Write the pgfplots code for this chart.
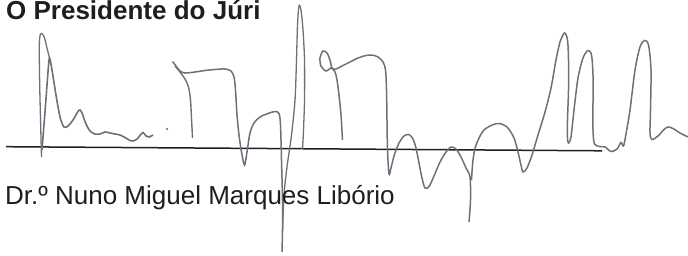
\documentclass[border=0pt]{standalone}
\usepackage{pgfplots}
\pgfplotsset{compat=1.18}
\usepackage{fontspec}
\setmainfont{Liberation Sans}
\definecolor{ink}{RGB}{30,30,32}
\definecolor{sig}{RGB}{108,112,120}
\begin{document}
\begin{tikzpicture}
\useasboundingbox (0,0) rectangle (688pt,255pt);
\begin{axis}[scale only axis, width=688pt, height=255pt,
  xmin=0, xmax=688, ymin=0, ymax=255, y dir=reverse,
  hide axis, clip=false]
% rule line
\addplot[ink, line width=1.5pt] coordinates {(6,146.7) (602,150.8)};
% signature strokes
\addplot[sig, line width=1.3pt, smooth, tension=0.5] coordinates {
(41.5,157) (40.8,130) (39.8,90) (39.3,55) (39.5,40) (40.5,34) (42.5,34) (44.5,38) (46.5,46) (48.5,54) (50,60)};
\addplot[sig, line width=1.6pt, smooth, tension=0.5] coordinates {
(42,150) (45,112) (48,72) (49.5,58) (52,70) (56,95) (60,117) (64,127) (68,126) (73,120) (78,111.5) (80,110) (82,113) (86,124) (90,131) (95,134) (100,134) (105,132) (110,133) (115,134) (120,135) (125,137.5) (130,140.5) (133,141) (137,139) (140,135.5) (143,132.5) (146,136) (149,137) (153,135)};
\addplot[sig, only marks, mark=*, mark size=0.9pt] coordinates {(167,129)};
\addplot[sig, line width=1.5pt, smooth, tension=0.5] coordinates {
(172.5,61.5) (176,66) (180,71) (185,73) (195,72) (205,70.5) (215,69.5) (225,69) (231,71) (234,77) (235.5,90) (237,115) (239,135) (241.5,152) (244.5,165) (247,152) (250,133) (254,123) (260,117) (268,113.5) (275,111.5) (279,113.5) (280.5,125) (281.5,160) (282.5,200) (282.5,230) (282,252)};
\addplot[sig, line width=1.4pt, smooth, tension=0.5] coordinates {
(175,66) (180,72) (185,79) (188.5,87) (190.5,100) (191.5,118) (192.5,138)};
\addplot[sig, line width=1.3pt, smooth, tension=0.5] coordinates {
(282.5,232) (284,195) (287,167) (291.5,135) (295,100) (296.5,60) (297.5,25) (299,6) (301,10) (303,30) (304.5,60) (304.5,100) (303.5,130) (302.5,149)};
\addplot[sig, line width=1.5pt, smooth, tension=0.5] coordinates {
(342.5,140) (341,115) (339,95) (337,80) (335,72) (331,68) (326,71) (321,66) (320,58) (323,51) (327,53) (330,60) (332,68) (336,69) (342,66) (350,62) (358,58) (366,55.5) (372,55) (378,57) (383,62) (385.5,70) (386.5,90) (387,120) (387.5,150) (389,174) (391,168) (394,156) (399,143) (404,136) (409,134.5) (413,139) (416,148) (419,163) (422,178) (425,188) (429,186.5) (434,176) (440,162) (446,152) (451,147) (456,149) (461,157) (466,168) (470,177) (470.5,200) (469,222)};
\addplot[sig, line width=1.5pt, smooth, tension=0.5] coordinates {
(471.5,180) (473,160) (476,145) (484,130) (497,123.5) (507,127) (514,138) (518,152) (521,165) (523,172) (527,168) (532,155) (538,135) (545,112) (551,88) (556,60) (560,42) (564.5,33) (567.5,40) (568.5,60) (568.5,90) (567.5,120) (567.5,138) (568.5,143) (571,137) (574,110) (578,78) (583,58) (588,50.5) (591.5,55) (593,75) (593,100) (593,130) (594.5,144) (600,146.5) (605,147) (611,151.5) (617,149) (621,142.5) (623.5,146) (626,134) (630,110) (635,70) (640,47) (644.5,40.5) (648.5,45) (651,70) (650.5,110) (650,133) (652,139.5) (658,136) (664,129.5) (668,127) (673,128.5) (680,133) (688,137)};
% texts
\node[anchor=base west, inner sep=0pt, text=ink, font=\fontsize{26}{30}\selectfont\bfseries] at (axis cs:6,19) {O Presidente do Júri};
\node[anchor=base west, inner sep=0pt, text=ink, font=\fontsize{26}{30}\selectfont] at (axis cs:5,204) {Dr.º Nuno Miguel Marques Libório};
\end{axis}
\end{tikzpicture}
\end{document}
